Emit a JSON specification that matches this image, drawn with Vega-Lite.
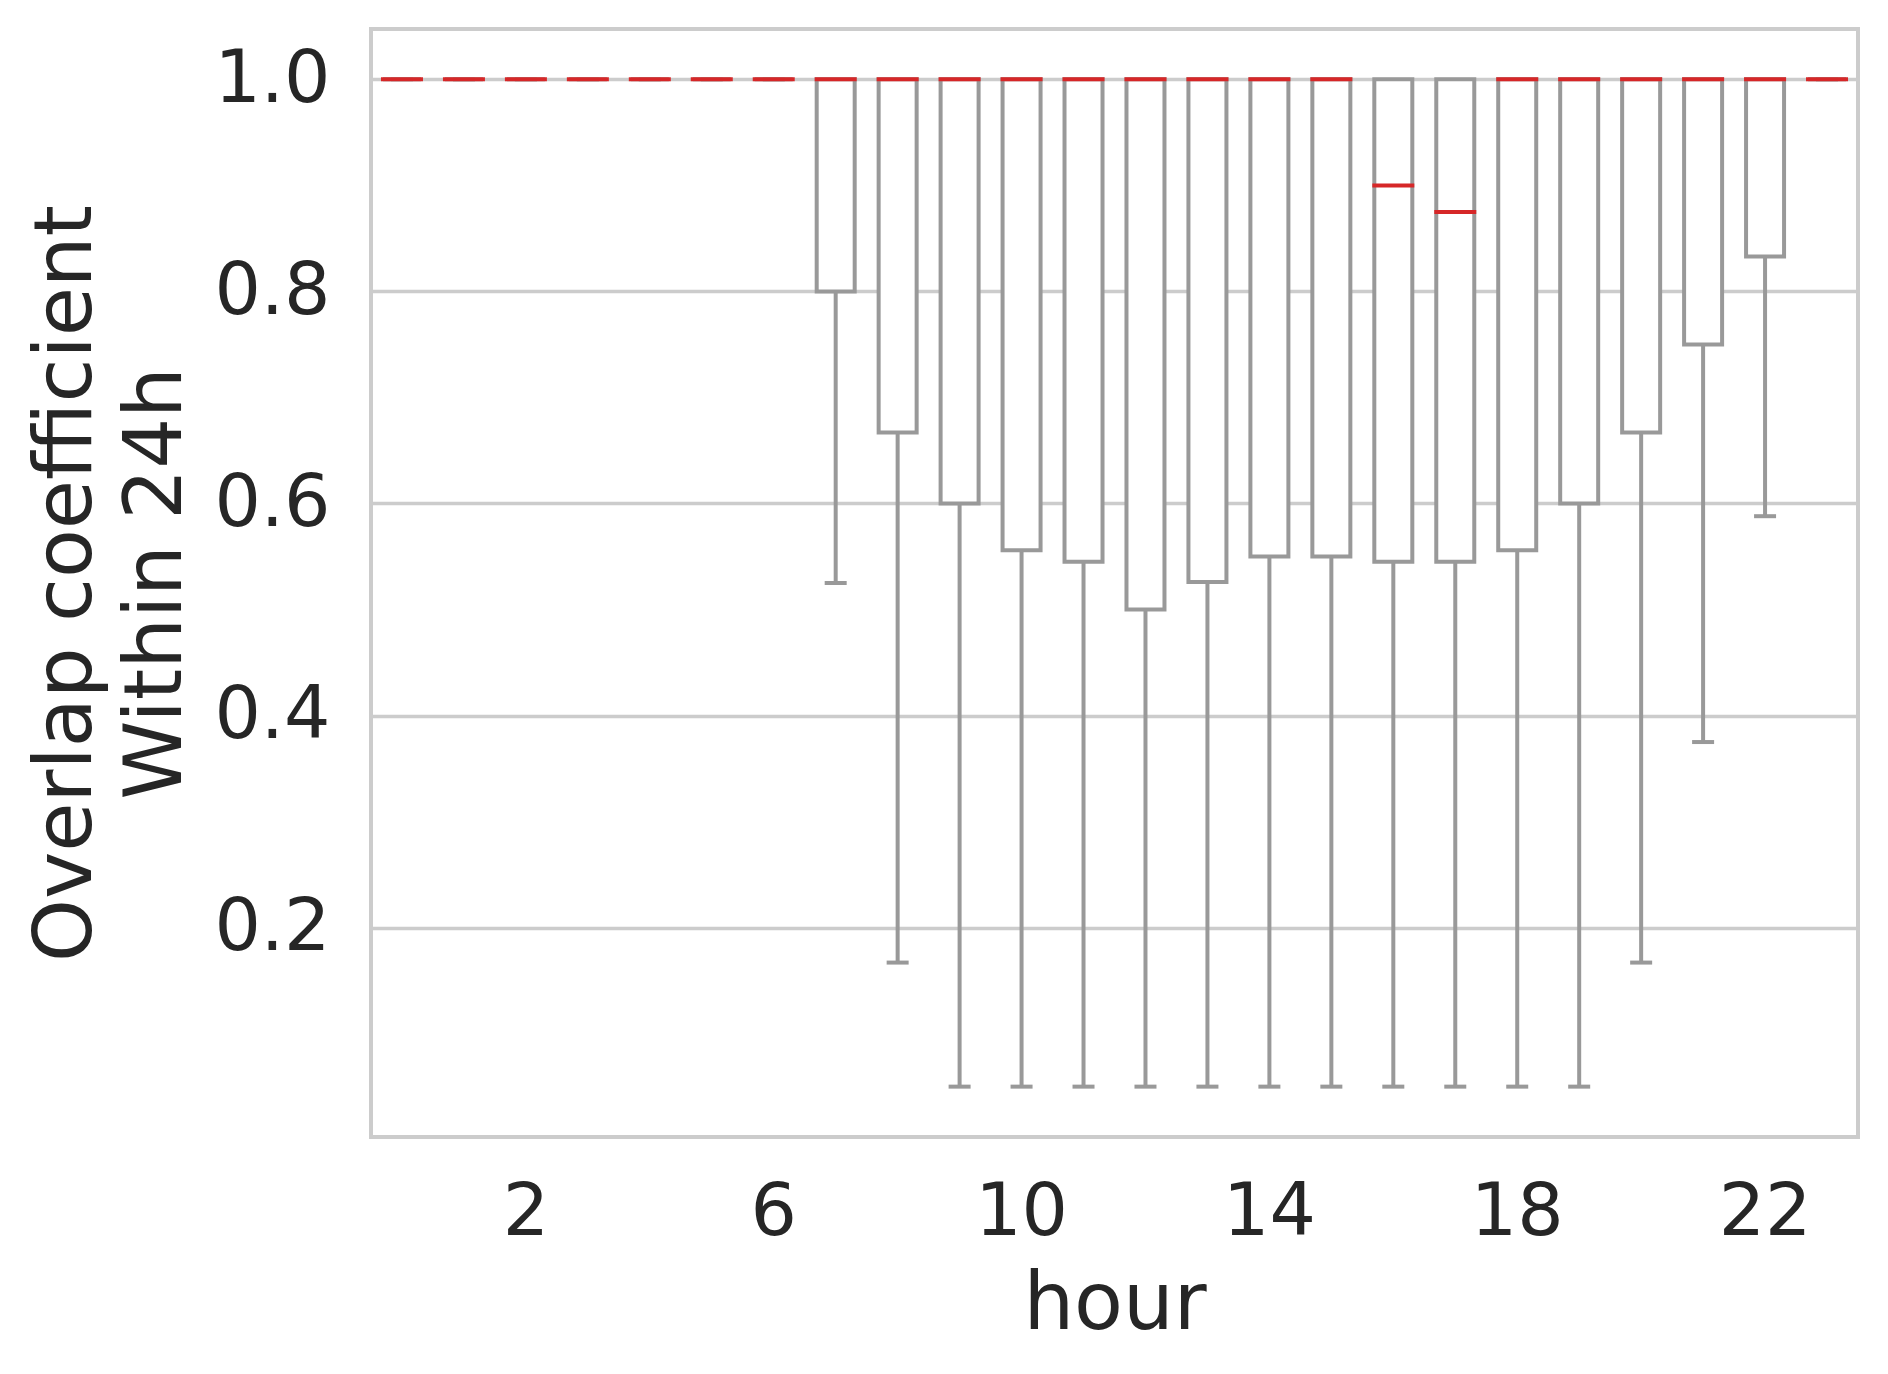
{
  "$schema": "https://vega.github.io/schema/vega-lite/v6.json",
  "autosize": {"type": "none"},
  "padding": {"left": 371, "top": 29, "right": 30, "bottom": 237},
  "width": 1487,
  "height": 1108,
  "background": "white",
  "config": {
    "font": "DejaVu Sans",
    "view": {"stroke": "#cccccc", "strokeWidth": 4},
    "axis": {"labelFont": "DejaVu Sans", "titleFont": "DejaVu Sans", "labelColor": "#262626", "titleColor": "#262626", "titleFontWeight": "normal"}
  },
  "data": {
    "values": [
      {"hour": 0, "lo": 1, "q1": 1, "med": 1, "q3": 1, "hi": 1},
      {"hour": 1, "lo": 1, "q1": 1, "med": 1, "q3": 1, "hi": 1},
      {"hour": 2, "lo": 1, "q1": 1, "med": 1, "q3": 1, "hi": 1},
      {"hour": 3, "lo": 1, "q1": 1, "med": 1, "q3": 1, "hi": 1},
      {"hour": 4, "lo": 1, "q1": 1, "med": 1, "q3": 1, "hi": 1},
      {"hour": 5, "lo": 1, "q1": 1, "med": 1, "q3": 1, "hi": 1},
      {"hour": 6, "lo": 1, "q1": 1, "med": 1, "q3": 1, "hi": 1},
      {"hour": 7, "lo": 0.525, "q1": 0.8, "med": 1, "q3": 1, "hi": 1},
      {"hour": 8, "lo": 0.167, "q1": 0.667, "med": 1, "q3": 1, "hi": 1},
      {"hour": 9, "lo": 0.05, "q1": 0.6, "med": 1, "q3": 1, "hi": 1},
      {"hour": 10, "lo": 0.05, "q1": 0.556, "med": 1, "q3": 1, "hi": 1},
      {"hour": 11, "lo": 0.05, "q1": 0.545, "med": 1, "q3": 1, "hi": 1},
      {"hour": 12, "lo": 0.05, "q1": 0.5, "med": 1, "q3": 1, "hi": 1},
      {"hour": 13, "lo": 0.05, "q1": 0.526, "med": 1, "q3": 1, "hi": 1},
      {"hour": 14, "lo": 0.05, "q1": 0.55, "med": 1, "q3": 1, "hi": 1},
      {"hour": 15, "lo": 0.05, "q1": 0.55, "med": 1, "q3": 1, "hi": 1},
      {"hour": 16, "lo": 0.05, "q1": 0.545, "med": 0.9, "q3": 1, "hi": 1},
      {"hour": 17, "lo": 0.05, "q1": 0.545, "med": 0.875, "q3": 1, "hi": 1},
      {"hour": 18, "lo": 0.05, "q1": 0.556, "med": 1, "q3": 1, "hi": 1},
      {"hour": 19, "lo": 0.05, "q1": 0.6, "med": 1, "q3": 1, "hi": 1},
      {"hour": 20, "lo": 0.167, "q1": 0.667, "med": 1, "q3": 1, "hi": 1},
      {"hour": 21, "lo": 0.375, "q1": 0.75, "med": 1, "q3": 1, "hi": 1},
      {"hour": 22, "lo": 0.588, "q1": 0.833, "med": 1, "q3": 1, "hi": 1},
      {"hour": 23, "lo": 1, "q1": 1, "med": 1, "q3": 1, "hi": 1}
    ]
  },
  "encoding": {
    "x": {
      "field": "hour",
      "type": "ordinal",
      "sort": "ascending",
      "scale": {"paddingInner": 0, "paddingOuter": 0},
      "axis": {
        "values": [2, 6, 10, 14, 18, 22],
        "labelAngle": 0,
        "labelFontSize": 73,
        "labelPadding": 39,
        "ticks": false,
        "tickSize": 0,
        "domain": false,
        "grid": false,
        "title": "hour",
        "titleFontSize": 80,
        "titleBaseline": "alphabetic",
        "titleY": 191
      }
    }
  },
  "layer": [
    {
      "mark": {"type": "rule", "color": "#999999", "strokeWidth": 4},
      "encoding": {
        "y": {
          "field": "lo",
          "type": "quantitative",
          "scale": {"domain": [0.0025, 1.0475], "nice": false, "zero": false},
          "axis": {
            "values": [0.2, 0.4, 0.6, 0.8, 1.0],
            "format": ".1f",
            "labelFontSize": 73,
            "labelPadding": 41,
            "ticks": false,
            "tickSize": 0,
            "domain": false,
            "grid": true,
            "gridColor": "#cccccc",
            "gridWidth": 3.3,
            "title": ["Overlap coefficient", "Within 24h"],
            "titleFontSize": 80,
            "titleLineHeight": 90,
            "titleAngle": 270,
            "titleAlign": "center",
            "titleBaseline": "alphabetic",
            "titleX": -281,
            "titleY": 554
          }
        },
        "y2": {"field": "q1"}
      }
    },
    {
      "mark": {"type": "tick", "color": "#999999", "thickness": 4, "size": 22, "opacity": 1},
      "encoding": {"y": {"field": "lo", "type": "quantitative"}}
    },
    {
      "mark": {"type": "bar", "width": 38, "fill": "white", "stroke": "#999999", "strokeWidth": 4, "strokeJoin": "miter"},
      "encoding": {
        "y": {"field": "q1", "type": "quantitative"},
        "y2": {"field": "q3"}
      }
    },
    {
      "mark": {"type": "tick", "color": "#d62728", "thickness": 4, "size": 42, "opacity": 1},
      "encoding": {"y": {"field": "med", "type": "quantitative"}}
    }
  ]
}
